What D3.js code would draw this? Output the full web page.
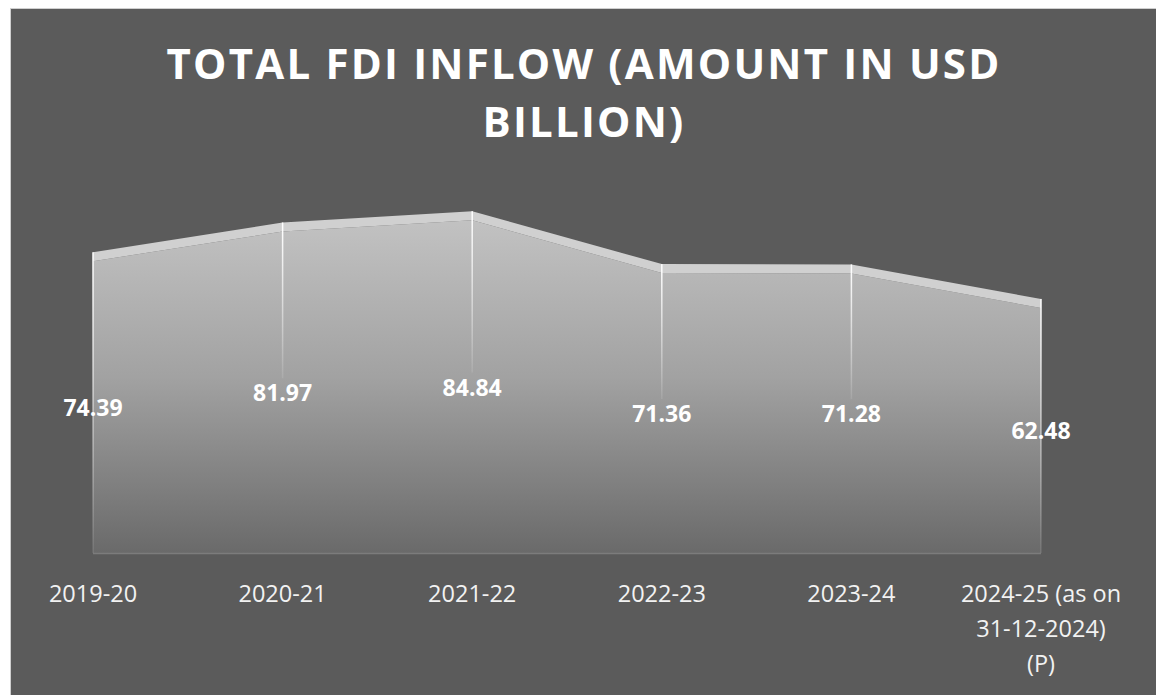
<!DOCTYPE html>
<html><head><meta charset="utf-8">
<script src="https://cdn.jsdelivr.net/npm/d3@7"></script>
<style>
html,body{margin:0;padding:0;background:#fff;}
svg{display:block;}
</style></head>
<body>
<script>
const categories = ["2019-20","2020-21","2021-22","2022-23","2023-24","2024-25 (as on 31-12-2024) (P)"];
const categoryLines = [["2019-20"],["2020-21"],["2021-22"],["2022-23"],["2023-24"],["2024-25 (as on","31-12-2024)","(P)"]];
const values = [74.39, 81.97, 84.84, 71.36, 71.28, 62.48];
const titleLines = ["TOTAL FDI INFLOW (AMOUNT IN USD","BILLION)"];

const W = 1156, H = 695;
const svg = d3.select("body").append("svg").attr("width", W).attr("height", H);
const defs = svg.append("defs");

svg.append("rect").attr("x",0).attr("y",0).attr("width",W).attr("height",H).attr("fill","#ffffff");
svg.append("rect").attr("x",10.5).attr("y",8.5).attr("width",W).attr("height",H).attr("fill","#5b5b5b").attr("stroke","#cfcfcf").attr("stroke-width",1);

const x = d3.scalePoint().domain(categories).range([93, 1041]);
const y = d3.scaleLinear().domain([0, 90]).range([553, 200]);
const depth = 9;

const g1 = defs.append("linearGradient").attr("id","face").attr("gradientUnits","userSpaceOnUse")
  .attr("x1",0).attr("y1",200).attr("x2",0).attr("y2",553);
g1.append("stop").attr("offset","0%").attr("stop-color","#c6c6c6");
g1.append("stop").attr("offset","50%").attr("stop-color","#a2a2a2");
g1.append("stop").attr("offset","100%").attr("stop-color","#6a6a6a");

const g2 = defs.append("linearGradient").attr("id","drop").attr("x1",0).attr("y1",0).attr("x2",0).attr("y2",1);
g2.append("stop").attr("offset","0%").attr("stop-color","#ffffff").attr("stop-opacity",1);
g2.append("stop").attr("offset","100%").attr("stop-color","#ffffff").attr("stop-opacity",0.1);

const data = categories.map((c,i)=>({c, v: values[i], lines: categoryLines[i]}));

// front face
const area = d3.area().x(d=>x(d.c)).y0(y(0)).y1(d=>y(d.v));
svg.append("path").datum(data).attr("d", area).attr("fill","url(#face)");

// top band (depth)
const band = d3.area().x(d=>x(d.c)).y0(d=>y(d.v)).y1(d=>y(d.v)-depth);
svg.append("path").datum(data).attr("d", band).attr("fill","#d0d0d0");

// baseline
svg.append("line").attr("x1",x(categories[0])).attr("x2",x(categories[categories.length-1]))
  .attr("y1",y(0)+0.5).attr("y2",y(0)+0.5).attr("stroke","#7c7c7c").attr("stroke-width",1.5);

// drop lines
data.forEach((d,i)=>{
  const top = y(d.v)-depth;
  const mid = (y(d.v)+y(0))/2;
  const edge = (i===0 || i===data.length-1);
  const bottom = edge ? y(0) : mid-14;
  svg.append("rect").attr("x",x(d.c)-0.75).attr("y",top).attr("width",1.5).attr("height",bottom-top)
    .attr("fill","url(#drop)");
});

// data labels
svg.append("g").selectAll("text").data(data).join("text")
  .attr("x",d=>x(d.c)).attr("y",d=>(y(d.v)+y(0))/2)
  .attr("text-anchor","middle").attr("dominant-baseline","central")
  .attr("font-family","'Open Sans', sans-serif").attr("font-weight",700).attr("font-size",23)
  .attr("fill","#ffffff").text(d=>d.v.toFixed(2));

// category labels
const xl = svg.append("g");
data.forEach(d=>{
  const t = xl.append("text").attr("x",x(d.c)).attr("y",593)
    .attr("text-anchor","middle").attr("dominant-baseline","central")
    .attr("font-family","'Open Sans', sans-serif").attr("font-weight",500).attr("font-size",23.5).attr("fill","#f2f2f2");
  d.lines.forEach((l,j)=>{
    t.append("tspan").attr("x",x(d.c)).attr("dy", j===0?0:35).text(l);
  });
});

// title
svg.append("g").selectAll("text").data(titleLines).join("text")
  .attr("x",584).attr("y",(d,i)=>79+i*58)
  .attr("text-anchor","middle")
  .attr("font-family","'Open Sans', sans-serif").attr("font-weight",700).attr("font-size",42)
  .attr("letter-spacing",2.2).attr("fill","#ffffff").text(d=>d);
</script>
</body></html>
